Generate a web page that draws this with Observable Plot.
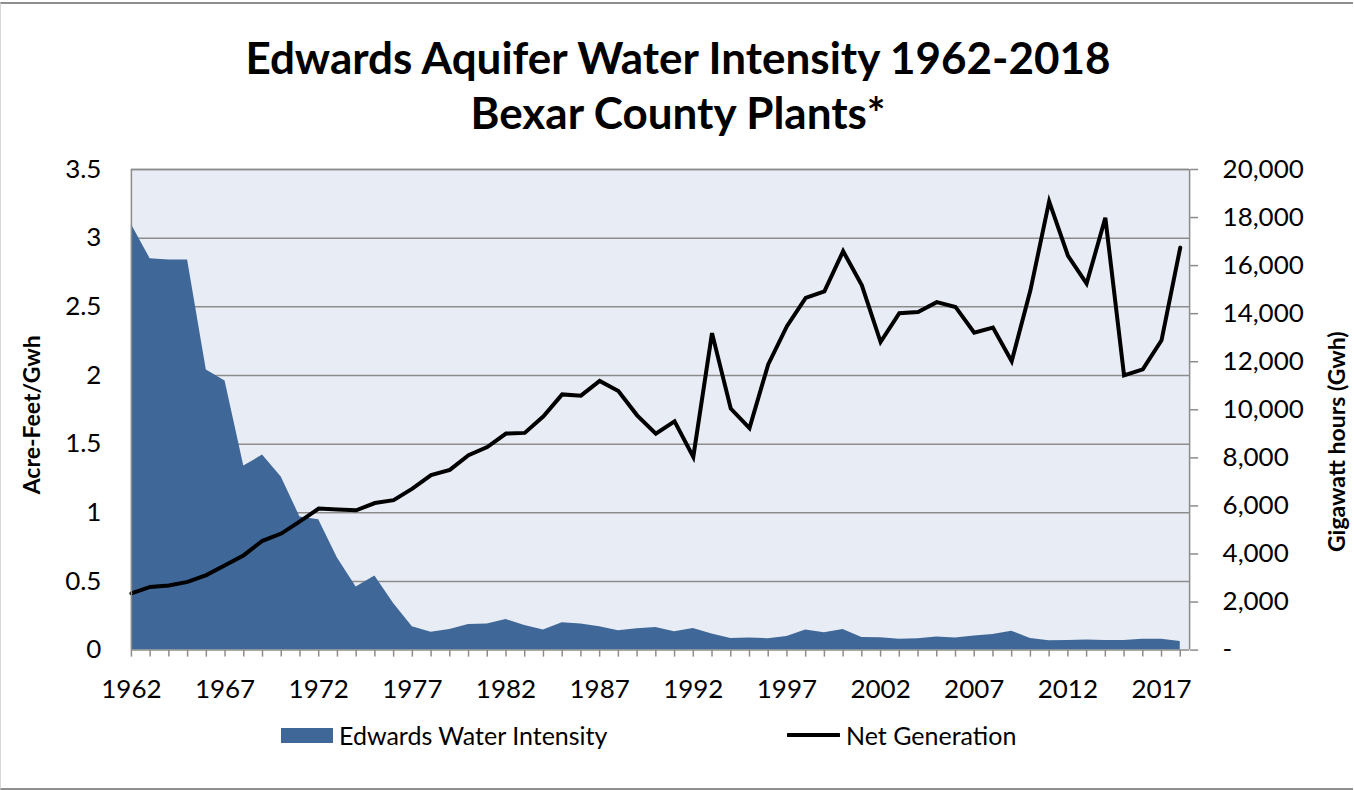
<!DOCTYPE html>
<html>
<head>
<meta charset="utf-8">
<script src="https://cdn.jsdelivr.net/npm/d3@7"></script>
<script src="https://cdn.jsdelivr.net/npm/@observablehq/plot@0.6"></script>
<style>
  html, body { margin: 0; padding: 0; background: #fff; }
  #wrap { position: relative; width: 1352px; height: 784px; margin-top: 2px;
          border-top: 2px solid #8f8f8f; border-bottom: 2px solid #8f8f8f; border-left: 1px solid #d8d8d8;
          font-family: Lato, "Open Sans", sans-serif; color: #000; overflow: hidden; }
  #title { position: absolute; left: 0; top: 0; width: 1354px; height: 148px; text-align: center;
           font-weight: bold; font-size: 44px; line-height: 55px; padding-top: 26px; box-sizing: border-box; }
  #chart { position: absolute; left: -1px; top: 142px; }
  #legend { position: absolute; left: 0; top: 704px; width: 1354px; height: 60px; font-size: 25px; }
  .item { position: absolute; top: 12px; display: flex; align-items: center; height: 30px; }
</style>
</head>
<body>
<div id="wrap">
  <div id="title">Edwards Aquifer Water Intensity 1962-2018<br>Bexar County Plants*</div>
  <div id="chart"></div>
  <div id="legend">
    <div class="item" style="left:280px"><span style="display:inline-block;width:52px;height:15px;background:#3F6898;margin-right:6px"></span>Edwards Water Intensity</div>
    <div class="item" style="left:786px"><svg width="53" height="10" style="margin-right:6px"><line x1="1" y1="5" x2="52" y2="5" stroke="#000" stroke-width="4" stroke-linecap="round"/></svg>Net Generation</div>
  </div>
</div>
<script>
const years = d3.range(1962, 2019);
const intensity = [3.10, 2.85, 2.84, 2.84, 2.04, 1.96, 1.34, 1.42, 1.26, 0.97, 0.95, 0.67, 0.46, 0.54, 0.34, 0.17, 0.13, 0.15,
  0.187, 0.19, 0.223, 0.18, 0.146, 0.199, 0.19, 0.17, 0.141, 0.155, 0.165, 0.134, 0.158, 0.117, 0.085, 0.088, 0.083, 0.10, 0.146, 0.126,
  0.15, 0.092, 0.09, 0.08, 0.083, 0.095, 0.088, 0.102, 0.114, 0.138, 0.085, 0.068, 0.07, 0.073, 0.07, 0.07, 0.08, 0.08, 0.063];
const netGen = [2360, 2630, 2690, 2840, 3120, 3530, 3950, 4550, 4850, 5360, 5890, 5850, 5820, 6120, 6240, 6720, 7280, 7500,
  8110, 8450, 9010, 9040, 9730, 10640, 10590, 11200, 10780, 9770, 9010, 9520, 8040, 13190, 10050, 9240, 11890, 13480, 14660, 14930,
  16600, 15180, 12820, 14020, 14070, 14480, 14280, 13210, 13420, 12020, 14970, 18670, 16420, 15250, 17990, 11430, 11680, 12890, 16750];
const leftTicks = [0, 0.5, 1, 1.5, 2, 2.5, 3, 3.5];
const rightTicks = [0, 2000, 4000, 6000, 8000, 10000, 12000, 14000, 16000, 18000, 20000];
const xLabelYears = [1962, 1967, 1972, 1977, 1982, 1987, 1992, 1997, 2002, 2007, 2012, 2017];

const leftMax = 3.5, rightMax = 20000;
const k = leftMax / rightMax;

const areaData = years.map((y, i) => ({year: y, v: intensity[i]}));
const lineData = years.map((y, i) => ({year: y, v: netGen[i] * k}));

const chart = Plot.plot({
  width: 1354,
  height: 564,
  marginTop: 23,
  marginBottom: 60,
  marginLeft: 131,
  marginRight: 164,
  style: {fontFamily: "Lato, 'Open Sans', sans-serif", fontSize: "26px", color: "#000", background: "transparent"},
  x: {domain: [1962, 2018.5]},
  y: {domain: [0, leftMax]},
  marks: [
    Plot.frame({fill: "#E8ECF4", stroke: null}),
    Plot.gridY(leftTicks.slice(1), {stroke: "#8c8c8c", strokeOpacity: 1, strokeWidth: 1.5}),
    Plot.areaY(areaData, {x: "year", y: "v", fill: "#3F6898"}),
    Plot.line(lineData, {x: "year", y: "v", stroke: "#000", strokeWidth: 4, strokeLinejoin: "miter", strokeMiterlimit: 4}),
    Plot.ruleY([leftMax], {stroke: "#8c8c8c", strokeWidth: 1.5}),
    Plot.ruleX([1962, 2018.5], {stroke: "#8c8c8c", strokeWidth: 1.5}),
    Plot.ruleY([0], {stroke: "#8c8c8c", strokeWidth: 1.5}),
    Plot.axisX({ticks: years, tickSize: 7, tickPadding: 22, stroke: "#8c8c8c", strokeWidth: 1.5,
      tickFormat: d => xLabelYears.includes(d) ? String(d) : "", label: null}),
    Plot.axisY({anchor: "left", ticks: leftTicks, tickSize: 0, tickPadding: 30, tickFormat: d => String(d), label: null}),
    Plot.axisY({anchor: "right", ticks: rightTicks.map(v => v * k), tickSize: 8, tickPadding: 25,
      stroke: "#8c8c8c", strokeWidth: 1.5,
      tickFormat: d => { const v = Math.round(d / k); return v === 0 ? "-" : d3.format(",")(v); }, label: null}),
    Plot.text(["Acre-Feet/Gwh"], {frameAnchor: "left", textAnchor: "middle", rotate: -90, dx: -99, dy: 5, fontWeight: "bold", fontSize: 23}),
    Plot.text(["Gigawatt hours (Gwh)"], {frameAnchor: "right", textAnchor: "middle", rotate: -90, dx: 148, dy: 32, fontWeight: "bold", fontSize: 23})
  ]
});
document.getElementById("chart").appendChild(chart);
</script>
</body>
</html>
